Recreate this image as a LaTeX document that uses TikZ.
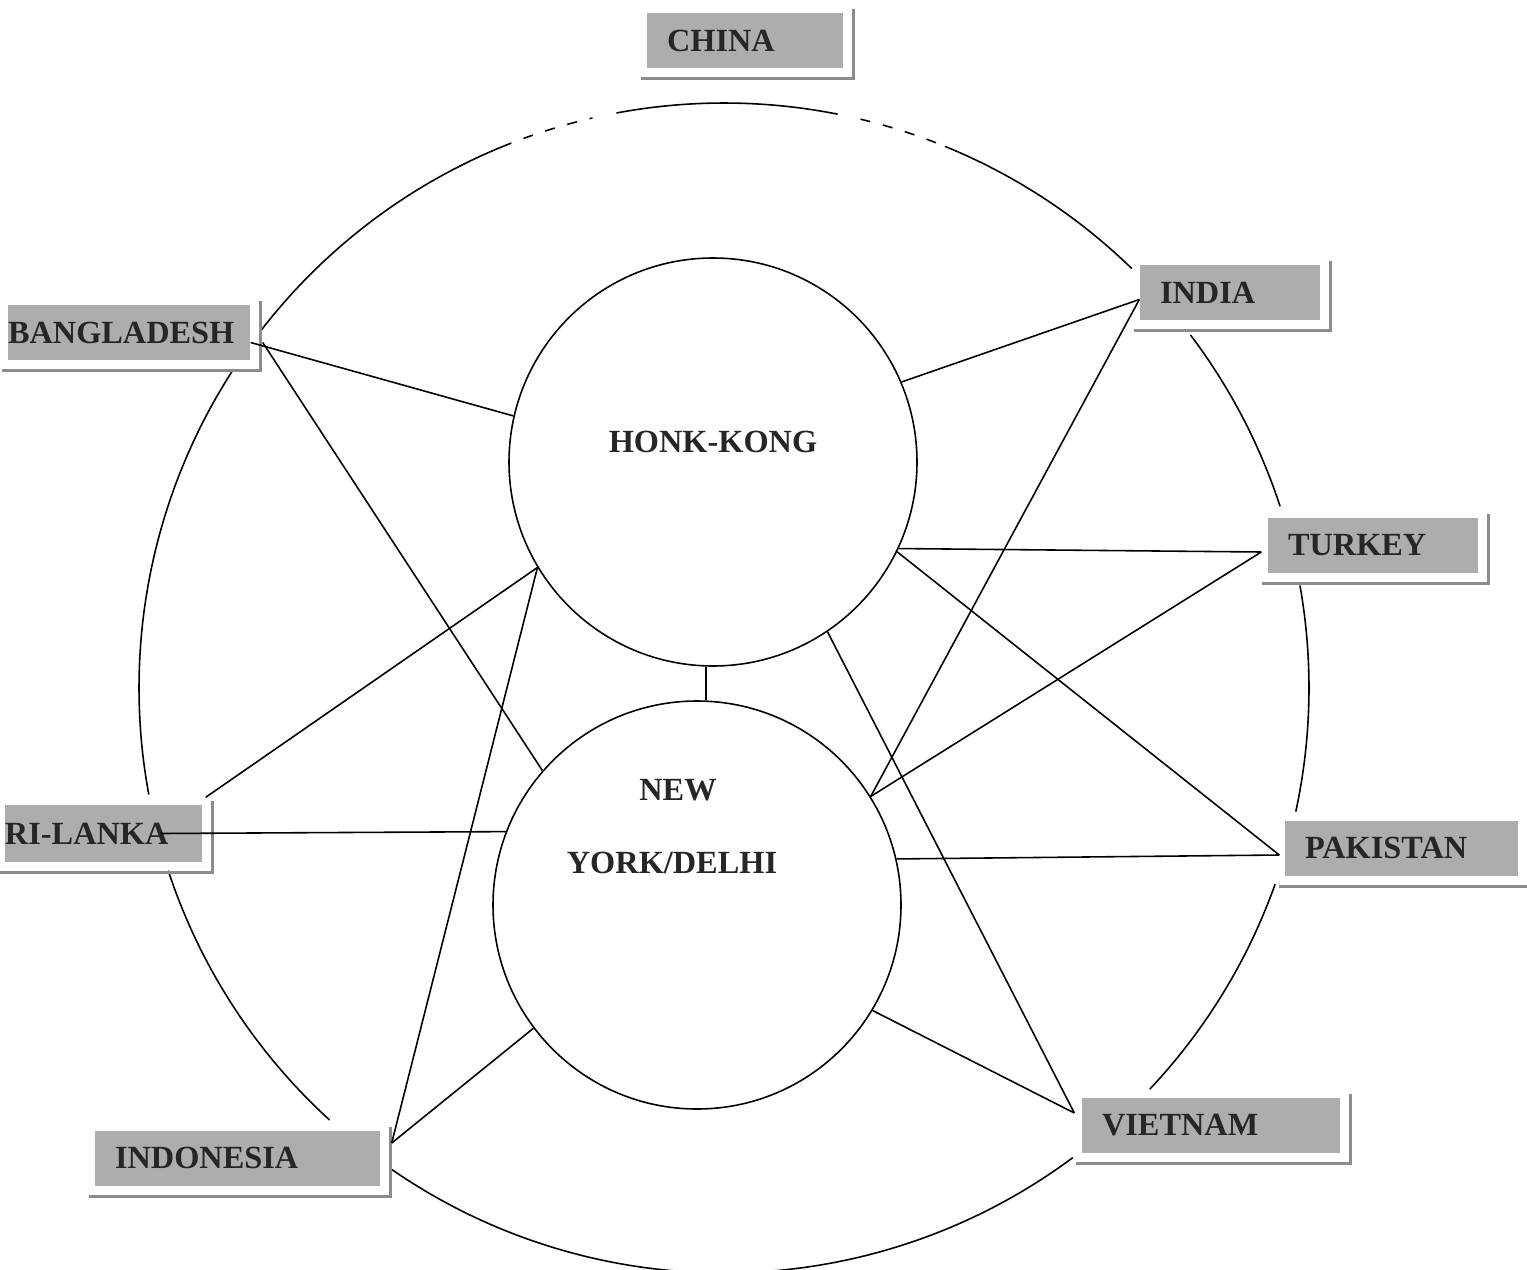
\documentclass[tikz,border=0pt]{standalone}
\usepackage{fontspec}
\setmainfont{Liberation Serif}
\colorlet{boxc}{black!32}
\colorlet{framec}{black!45}
\tikzstyle{country} = [
  fill=boxc,
  minimum height=0.55cm,
  inner xsep=0.2cm,
  inner ysep=0pt,
  align=left,
  font=\bfseries\fontsize{9.2}{11}\selectfont,
  text=black!85,
]
\tikzstyle{hub} = [
  circle,
  draw,
  line width=0.45pt,
  minimum size=4.08cm,
  inner sep=0pt,
]
\tikzstyle{hubname} = [
  font=\bfseries\fontsize{9.2}{11}\selectfont,
  text=black!85,
]
\tikzstyle{link} = [line width=0.45pt]
\tikzstyle{frame} = [draw=framec, line width=0.8pt]

\begin{document}
\begin{tikzpicture}
    \useasboundingbox (0,0) rectangle (15.27,12.69);
    \def\R{5.85cm}

    \coordinate (O) at (7.24,5.81);

    % Outer ring, broken at the boxes
    \foreach \a/\b in {142.5/112.3, 100.6/78.8, 67.8/45.8, 37.1/18.1,
                       10.1/-12.2, -19.6/-43.3, -53.4/-124.9,
                       227.6/198.2, 190.5/147}
        \draw[link] (O) ++(\a:\R) arc[start angle=\a, end angle=\b, radius=\R];
    \foreach \a/\b in {112.3/103, 76.5/67.8}
        \draw[link, dash pattern=on 1mm off 1.3mm]
            (O) ++(\a:\R) arc[start angle=\a, end angle=\b, radius=\R];

    % Hubs
    \node[hub] (hk) at (7.13,8.07) {};
    \node[hub] (ny) at (6.97,3.64) {};
    \node[hubname] (hkname) at ([yshift=2mm]hk.center) {HONK-KONG};
    \node[hubname] (nyname1) at ([shift={(-0.19,1.15)}]ny.center) {NEW};
    \node[hubname] (nyname2) at ([shift={(-0.25,0.42)}]ny.center) {YORK/DELHI};

    % Countries
    \node[country, text width=1.56cm] (china) at (7.45,12.285) {CHINA};
    \node[country, inner xsep=0pt, text width=2.42cm] (bgd) at (1.29,9.365) {BANGLADESH};
    \node[country, text width=1.40cm] (india) at (12.30,9.765) {INDIA};
    \node[country, text width=1.70cm] (turkey) at (13.73,7.235) {TURKEY};
    \node[country, text width=1.93cm] (pak) at (14.015,4.21) {PAKISTAN};
    \node[country, inner xsep=0pt, text width=1.97cm, minimum height=0.57cm] (srl) at (1.035,4.355) {RI-LANKA};
    \node[country, text width=2.45cm] (indo) at (2.375,1.11) {INDONESIA};
    \node[country, text width=2.18cm] (viet) at (12.11,1.44) {VIETNAM};

    \foreach \n in {china,bgd,india,turkey,pak,srl,indo,viet}
        \draw[frame] ([shift={(1mm,0.3mm)}]\n.north east) |- ([shift={(-0.5mm,-1mm)}]\n.south west);

    % Links
    \draw[link] (hk.-92) -- (hk.-92 |- ny.north);
    \draw[link] ([yshift=-1mm]bgd.east) -- (hk.167);
    \draw[link] ([shift={(1.2mm,-1mm)}]bgd.east) -- (ny.139.2);
    \draw[link] ([yshift=-0.7mm]india.west) -- (hk.23.1);
    \draw[link] ([yshift=-0.7mm]india.west) -- (ny.32.6);
    \draw[link] ([shift={(-0.6mm,-0.65mm)}]turkey.west) -- (hk.-25.9);
    \draw[link] ([shift={(-0.6mm,-0.65mm)}]turkey.west) -- (ny.32.6);
    \draw[link] ([shift={(-0.5mm,-0.7mm)}]pak.west) -- (hk.-26.8);
    \draw[link] ([shift={(-0.5mm,-0.7mm)}]pak.west) -- (ny.13.8);
    \draw[link] ([shift={(-0.7mm,1.2mm)}]viet.west) -- (hk.-56.6);
    \draw[link] ([shift={(-0.7mm,1.2mm)}]viet.west) -- (ny.-31.3);
    \draw[link] ([shift={(1.1mm,1.5mm)}]indo.east) -- (hk.211.3);
    \draw[link] ([shift={(1.1mm,1.5mm)}]indo.east) -- (ny.217.8);
    \draw[link] ([shift={(0.3mm,0.7mm)}]srl.north east) -- (hk.211.3);
    \draw[link] ([xshift=-4.2mm]srl.east) -- (ny.159.4);
\end{tikzpicture}
\end{document}
